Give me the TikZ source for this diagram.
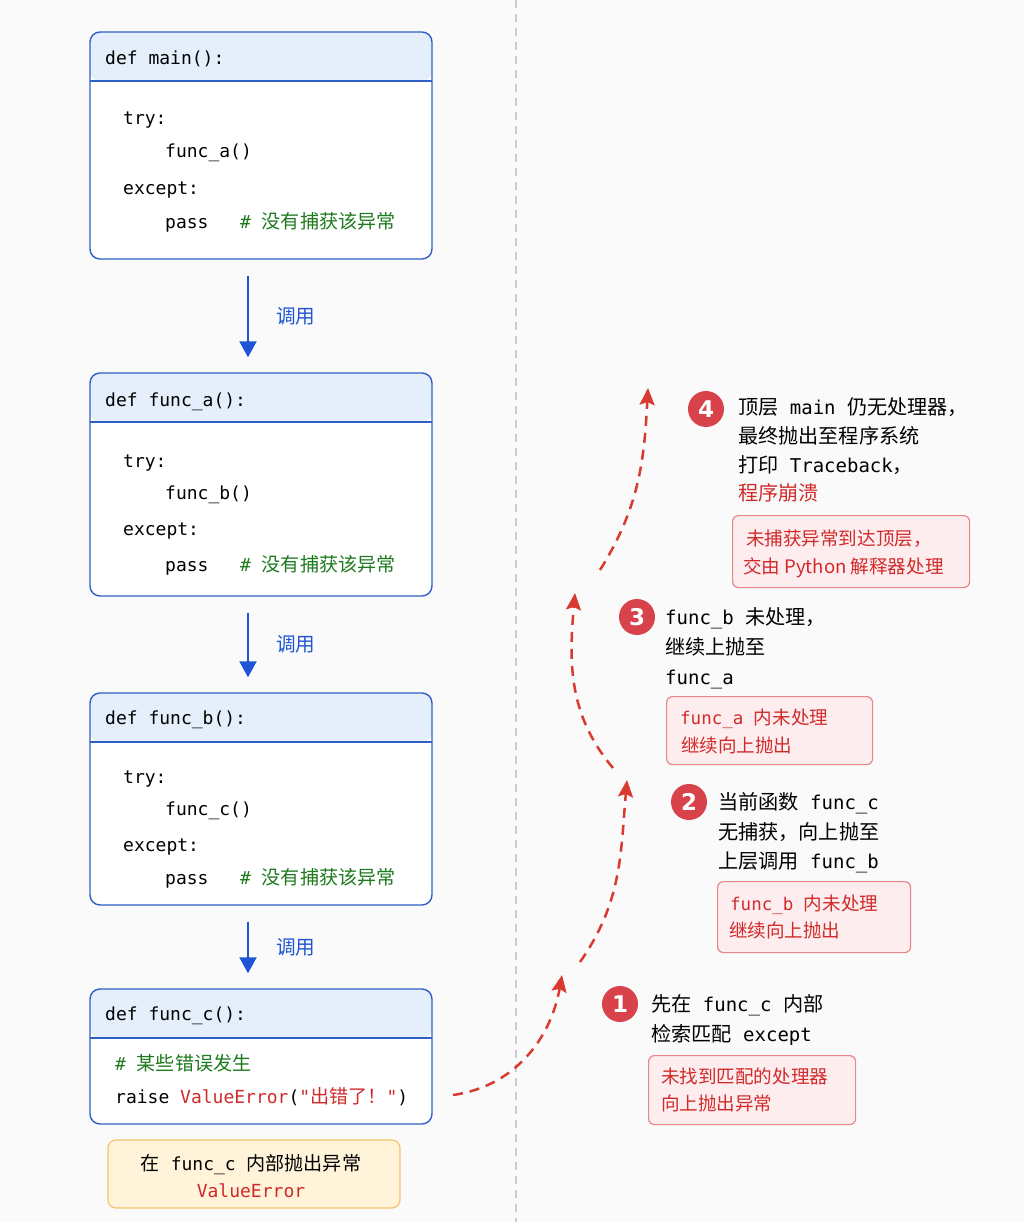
\documentclass[tikz,border=0pt]{standalone}
\usepackage{fontspec}
\setmonofont{DejaVu Sans Mono}
\newfontfamily\cjk[Scale=1.06]{Noto Sans CJK SC}
\newfontfamily\numfont{DejaVu Sans}
\usetikzlibrary{arrows.meta}
\definecolor{pagebg}{HTML}{FAFAFA}
\definecolor{boxblue}{HTML}{2F5FC4}
\definecolor{headblue}{HTML}{E5EFFB}
\definecolor{callblue}{HTML}{1F55D4}
\definecolor{notegreen}{HTML}{1E7A1E}
\definecolor{errred}{HTML}{D12A2A}
\definecolor{flowred}{HTML}{D93A30}
\definecolor{numred}{HTML}{D8434B}
\definecolor{tipfill}{HTML}{FDEDEE}
\definecolor{tipline}{HTML}{E8878A}
\definecolor{warnfill}{HTML}{FFF3D9}
\definecolor{warnline}{HTML}{F5C469}
\definecolor{divgray}{HTML}{CCCCCC}
\newcommand\zh[1]{{\cjk #1}}
\tikzset{
  codebox/.style={draw=boxblue, line width=1.4pt, fill=white, rounded corners=10pt,
    minimum width=342pt, inner sep=0pt,
    path picture={
      \fill[headblue] (path picture bounding box.north west)
        rectangle ([yshift=-49pt]path picture bounding box.north east);
      \draw[boxblue, line width=1.4pt] ([yshift=-49pt]path picture bounding box.north west)
        -- ([yshift=-49pt]path picture bounding box.north east);}},
  code/.style={font=\ttfamily\fontsize{18}{21}\selectfont, anchor=west, inner sep=0pt,
    text height=15pt, text depth=0pt},
  note/.style={code, font=\ttfamily\fontsize{19}{23}\selectfont},
  tiptext/.style={code, text=errred, font=\ttfamily\fontsize{17.5}{21}\selectfont},
  callarrow/.style={draw=callblue, line width=2pt, -{Triangle[length=16pt,width=17pt]},
    shorten <=16pt, shorten >=15pt},
  calllbl/.style={midway, anchor=west, xshift=27pt, text=callblue, inner sep=0pt,
    font=\cjk\fontsize{18.5}{19}\selectfont},
  flow/.style={draw=flowred, line width=2.5pt, dash pattern=on 10pt off 7pt,
    -{Stealth[length=17pt,width=15pt,inset=3pt]}},
  stepnum/.style={circle, fill=numred, text=white, minimum size=36pt, inner sep=0pt,
    font=\numfont\bfseries\fontsize{23}{23}\selectfont},
  tipbox/.style={draw=tipline, fill=tipfill, line width=1.2pt, rounded corners=6pt,
    anchor=north west, inner sep=0pt},
  warnbox/.style={draw=warnline, fill=warnfill, line width=1.2pt, rounded corners=8pt,
    inner sep=0pt}
}
\begin{document}
\begin{tikzpicture}[x=1pt,y=-1pt]
\fill[pagebg] (0,0) rectangle (1024,1222);
\useasboundingbox (0,0) rectangle (1024,1222);
% divider
\coordinate (divtop) at (516,0);
\coordinate (divbot) at (516,1222);
\draw[divgray, line width=1.5pt, dash pattern=on 8pt off 6pt] (divtop) -- (divbot);

% call stack boxes
\node[codebox, minimum height=227pt] (main) at (261,145.5) {};
\node[code] (mainhead) at (105,57) {def main():};
\node[code] (maintry) at (123,117) {try:};
\node[code] (maincall) at (165,150) {func\_a()};
\node[code] (mainexc) at (123,187) {except:};
\node[code] (mainpass) at (165,221) {pass};
\node[code, text=notegreen] (mainnote) at (240,221) {\# \zh{没有捕获该异常}};

\node[codebox, minimum height=223pt] (funa) at (261,484.5) {};
\node[code] (funahead) at (105,399) {def func\_a():};
\node[code] (funatry) at (123,460) {try:};
\node[code] (funacall) at (165,492) {func\_b()};
\node[code] (funaexc) at (123,528) {except:};
\node[code] (funapass) at (165,564) {pass};
\node[code, text=notegreen] (funanote) at (240,564) {\# \zh{没有捕获该异常}};

\node[codebox, minimum height=212pt] (funb) at (261,799) {};
\node[code] (funbhead) at (105,717) {def func\_b():};
\node[code] (funbtry) at (123,776) {try:};
\node[code] (funbcall) at (165,808) {func\_c()};
\node[code] (funbexc) at (123,844) {except:};
\node[code] (funbpass) at (165,877) {pass};
\node[code, text=notegreen] (funbnote) at (240,877) {\# \zh{没有捕获该异常}};

\node[codebox, minimum height=135pt] (func) at (261,1056.5) {};
\node[code] (funchead) at (105,1013) {def func\_c():};
\node[code, text=notegreen] (funcnote) at (115,1063) {\# \zh{某些错误发生}};
\node[code] (funcraise) at (115,1096)
  {raise \textcolor{errred}{ValueError}(\textcolor{errred}{"\zh{出错了！}"})};

\node[warnbox, minimum width=292pt, minimum height=68pt] (raisenote) at (254,1174) {};
\node[code, anchor=center] (raisel1) at (251,1163) {\zh{在} func\_c \zh{内部抛出异常}};
\node[code, anchor=center, text=errred] (raisel2) at (251,1190) {ValueError};

% calls
\draw[callarrow] ([xshift=-13pt]main.south) -- node[calllbl] (call1) {调用} ([xshift=-13pt]funa.north);
\draw[callarrow] ([xshift=-13pt]funa.south) -- node[calllbl] (call2) {调用} ([xshift=-13pt]funb.north);
\draw[callarrow] ([xshift=-13pt]funb.south) -- node[calllbl] (call3) {调用} ([xshift=-13pt]func.north);

% propagation
\coordinate (up1a) at (453,1095);
\coordinate (up1b) at (562,975);
\coordinate (up2a) at (580,962);
\coordinate (up2b) at (627,780);
\coordinate (up3a) at (613,768);
\coordinate (up3b) at (575,593);
\coordinate (up4a) at (600,570);
\coordinate (up4b) at (648,388);
\draw[flow] (up1a) to[out=8, in=-100] (up1b);
\draw[flow] (up2a) to[out=55, in=-95] (up2b);
\draw[flow] (up3a) to[out=130, in=-95] (up3b);
\draw[flow] (up4a) to[out=58, in=-93] (up4b);

% step 1
\node[stepnum] (n1) at (620,1004) {1};
\node[note] (s1l1) at (651,1004) {\zh{先在} func\_c \zh{内部}};
\node[note] (s1l2) at (651,1034) {\zh{检索匹配} except};
\node[tipbox, minimum width=207pt, minimum height=69pt] (tip1) at (648,1055) {};
\node[tiptext] (tip1l1) at (661,1076) {\zh{未找到匹配的处理器}};
\node[tiptext] (tip1l2) at (661,1103) {\zh{向上抛出异常}};

% step 2
\node[stepnum] (n2) at (689,802) {2};
\node[note] (s2l1) at (718,802) {\zh{当前函数} func\_c};
\node[note] (s2l2) at (718,832) {\zh{无捕获，向上抛至}};
\node[note] (s2l3) at (718,861) {\zh{上层调用} func\_b};
\node[tipbox, minimum width=193pt, minimum height=71pt] (tip2) at (717,881) {};
\node[tiptext] (tip2l1) at (730,903) {func\_b \zh{内未处理}};
\node[tiptext] (tip2l2) at (729,930) {\zh{继续向上抛出}};

% step 3
\node[stepnum] (n3) at (637,617) {3};
\node[note] (s3l1) at (665,617) {func\_b \zh{未处理，}};
\node[note] (s3l2) at (665,647) {\zh{继续上抛至}};
\node[note] (s3l3) at (665,677) {func\_a};
\node[tipbox, minimum width=206pt, minimum height=68pt] (tip3) at (666,696) {};
\node[tiptext] (tip3l1) at (680,717) {func\_a \zh{内未处理}};
\node[tiptext] (tip3l2) at (681,745) {\zh{继续向上抛出}};

% step 4
\node[stepnum] (n4) at (706,409) {4};
\node[note] (s4l1) at (738,407) {\zh{顶层} main \zh{仍无处理器，}};
\node[note] (s4l2) at (738,436) {\zh{最终抛出至程序系统}};
\node[note] (s4l3) at (738,465) {\zh{打印} Traceback\zh{，}};
\node[note, text=errred] (s4l4) at (738,493) {\zh{程序崩溃}};
\node[tipbox, minimum width=237pt, minimum height=72pt] (tip4) at (732,515) {};
\node[tiptext] (tip4l1) at (746,538) {\zh{未捕获异常到达顶层，}};
\node[tiptext] (tip4l2) at (743,566) {\zh{交由 Python 解释器处理}};
\end{tikzpicture}
\end{document}
